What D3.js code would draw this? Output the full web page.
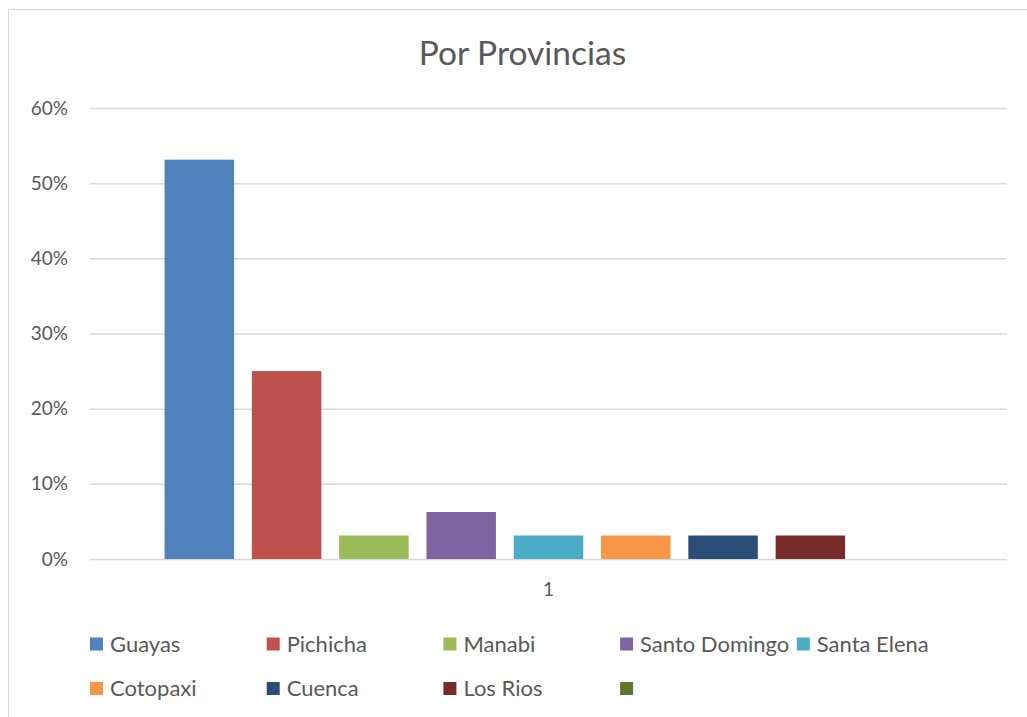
<!DOCTYPE html>
<html><head><meta charset="utf-8">
<script src="https://cdn.jsdelivr.net/npm/d3@7"></script>
<style>
html,body{margin:0;padding:0;background:#fff;}
svg{display:block;font-family:Lato,"Open Sans",sans-serif;}
</style></head>
<body>
<svg id="chart" width="1027" height="717"></svg>
<script>
const categories = ["1"];
const seriesNames = ["Guayas","Pichicha","Manabi","Santo Domingo","Santa Elena","Cotopaxi","Cuenca","Los Rios",""];
const seriesValues = [0.53125,0.25,0.03125,0.0625,0.03125,0.03125,0.03125,0.03125,0];
const seriesColors = ["#4F81BD","#C0504D","#9BBB59","#8064A2","#4BACC6","#F79646","#2C4D75","#772C2A","#5F7530"];
const yTicks = [0,0.1,0.2,0.3,0.4,0.5,0.6];
const title = "Por Provincias";

(function(){
const svg = d3.select("#chart");
const textColor = "#595959";
const pLeft = 90, pRight = 1007, pTop = 108, pBottom = 559;

svg.append("rect").attr("x",8.5).attr("y",9.5).attr("width",1040).attr("height",720)
  .attr("fill","#fff").attr("stroke","#D9D9D9").attr("stroke-width",1);

svg.append("text").attr("x",522.5).attr("y",65).attr("text-anchor","middle")
  .attr("font-size",33.5).attr("fill",textColor).text(title);

const y = d3.scaleLinear().domain([0,0.6]).range([pBottom,pTop]);
const x0 = d3.scaleBand().domain(categories).range([pLeft,pRight]).paddingInner(0).paddingOuter(0.0836);
const keys = seriesNames.map((d,i)=>i);
const x1 = d3.scaleBand().domain(keys).range([0,x0.bandwidth()]).paddingInner(0.204).paddingOuter(0.102);

const yAxis = d3.axisLeft(y).tickValues(yTicks).tickFormat(d3.format(".0%")).tickSize(-(pRight-pLeft)).tickPadding(22);
const gy = svg.append("g").attr("transform",`translate(${pLeft},0)`).call(yAxis);
gy.select(".domain").remove();
gy.selectAll(".tick line").attr("stroke","#D9D9D9").attr("stroke-width",1.5);
gy.selectAll(".tick text").attr("fill",textColor).attr("font-size",19).attr("font-family","Lato,'Open Sans',sans-serif");

const rows = categories.map(c=>({cat:c, vals: seriesValues.map((v,i)=>({i, v}))}));
const g = svg.append("g");
rows.forEach(r=>{
  g.selectAll(null).data(r.vals).join("rect")
    .attr("x",d=>x0(r.cat)+x1(d.i)).attr("width",x1.bandwidth())
    .attr("y",d=>y(d.v)).attr("height",d=>pBottom-y(d.v))
    .attr("fill",d=>seriesColors[d.i]);
});

const xAxis = d3.axisBottom(x0).tickSize(0).tickPadding(24);
const gx = svg.append("g").attr("transform",`translate(0,${pBottom})`).call(xAxis);
gx.select(".domain").remove();
gx.selectAll(".tick text").attr("fill",textColor).attr("font-size",19).attr("font-family","Lato,'Open Sans',sans-serif");

const legCols = 5, legX = 90, legColW = 176.7, legY = 644, legRowH = 44.5;
const lg = svg.append("g");
seriesNames.forEach((name,i)=>{
  const cx = legX + (i%legCols)*legColW, cy = legY + Math.floor(i/legCols)*legRowH;
  lg.append("rect").attr("x",cx).attr("y",cy-6.5).attr("width",13).attr("height",13).attr("fill",seriesColors[i]);
  lg.append("text").attr("x",cx+20).attr("y",cy).attr("dy","0.35em").attr("font-size",22)
    .attr("fill",textColor).text(name);
});
})();
</script>
</body></html>
